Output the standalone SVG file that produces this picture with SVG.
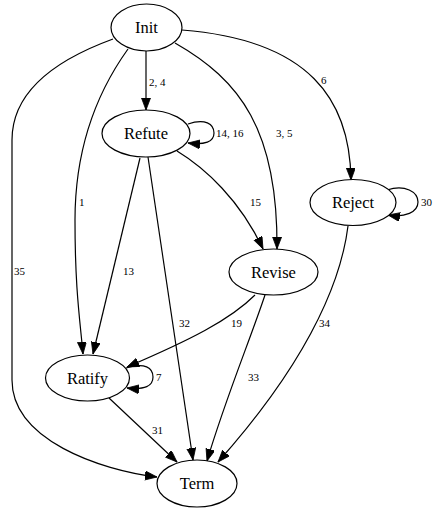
<svg xmlns="http://www.w3.org/2000/svg" width="433" height="508" viewBox="0 0 433 508">
<style>
.node ellipse{fill:#fff;stroke:#000;stroke-width:1.2}
.node text{font-family:"Liberation Serif","Times New Roman",serif;font-size:16.5px;text-anchor:middle;fill:#000}
.edges path{fill:none;stroke:#000;stroke-width:1.2;marker-end:url(#ah)}
.lbl{font-family:"Liberation Serif","Times New Roman",serif;font-size:11px;fill:#000}
</style>
<defs>
<marker id="ah" markerUnits="userSpaceOnUse" markerWidth="13" markerHeight="10" refX="12" refY="4.5" orient="auto">
<path d="M0,0 L12,4.5 L0,9 Z" fill="#000" stroke="#000" stroke-width="0.8"/>
</marker>
</defs>
<rect width="433" height="508" fill="#fff"/>
<g class="edges" id="edges">
<path d="M146,51 L146,110"/>
<path d="M175,43 C 240,80 278,130 277,249"/>
<path d="M182,30 C 310,40 350,100 351,180"/>
<path d="M128,49 C 95,95 75,150 75,220 C 75,290 80,320 83,354"/>
<path d="M113,39 C 50,62 12,95 12,140 L12,380 C 12,440 100,470 157,477"/>
<path d="M140,158 L93,354"/>
<path d="M148,157 L193,460"/>
<path d="M177,151 C 205,168 240,200 263,249"/>
<path d="M255,295 C 230,320 190,340 127,367"/>
<path d="M265,295 C 250,340 225,400 207,461"/>
<path d="M348,226 C 340,290 300,370 218,462"/>
<path d="M109,398 L177,462"/>
<path d="M188,124 C 205,118 214,124 214,133 C 214,142 205,145 188,143"/>
<path d="M387,190 C 405,184 418,192 418,202 C 418,212 405,218 388,215"/>
<path d="M126,368 C 145,362 153,368 153,377 C 153,386 145,390 127,388"/>
<text class="lbl" x="149" y="86">2, 4</text>
<text class="lbl" x="216" y="137">14, 16</text>
<text class="lbl" x="276" y="137">3, 5</text>
<text class="lbl" x="321" y="84">6</text>
<text class="lbl" x="79" y="206">1</text>
<text class="lbl" x="14" y="275">35</text>
<text class="lbl" x="123" y="275">13</text>
<text class="lbl" x="179" y="327">32</text>
<text class="lbl" x="250" y="206">15</text>
<text class="lbl" x="421" y="206">30</text>
<text class="lbl" x="231" y="327">19</text>
<text class="lbl" x="319" y="327">34</text>
<text class="lbl" x="248" y="381">33</text>
<text class="lbl" x="156" y="381">7</text>
<text class="lbl" x="152" y="434">31</text>
</g>
<g class="node" id="Init"><ellipse cx="146.5" cy="27.5" rx="35.5" ry="23.5"/><text x="146.5" y="33">Init</text></g>
<g class="node" id="Refute"><ellipse cx="146" cy="133.5" rx="44" ry="23.5"/><text x="146" y="139">Refute</text></g>
<g class="node" id="Reject"><ellipse cx="353" cy="202.5" rx="43" ry="23"/><text x="353" y="208">Reject</text></g>
<g class="node" id="Revise"><ellipse cx="273.5" cy="272" rx="44.5" ry="23"/><text x="273.5" y="277.5">Revise</text></g>
<g class="node" id="Ratify"><ellipse cx="87.5" cy="378" rx="42" ry="23"/><text x="87.5" y="383.5">Ratify</text></g>
<g class="node" id="Term"><ellipse cx="197" cy="483.5" rx="40" ry="23.5"/><text x="197" y="489">Term</text></g>
</svg>
